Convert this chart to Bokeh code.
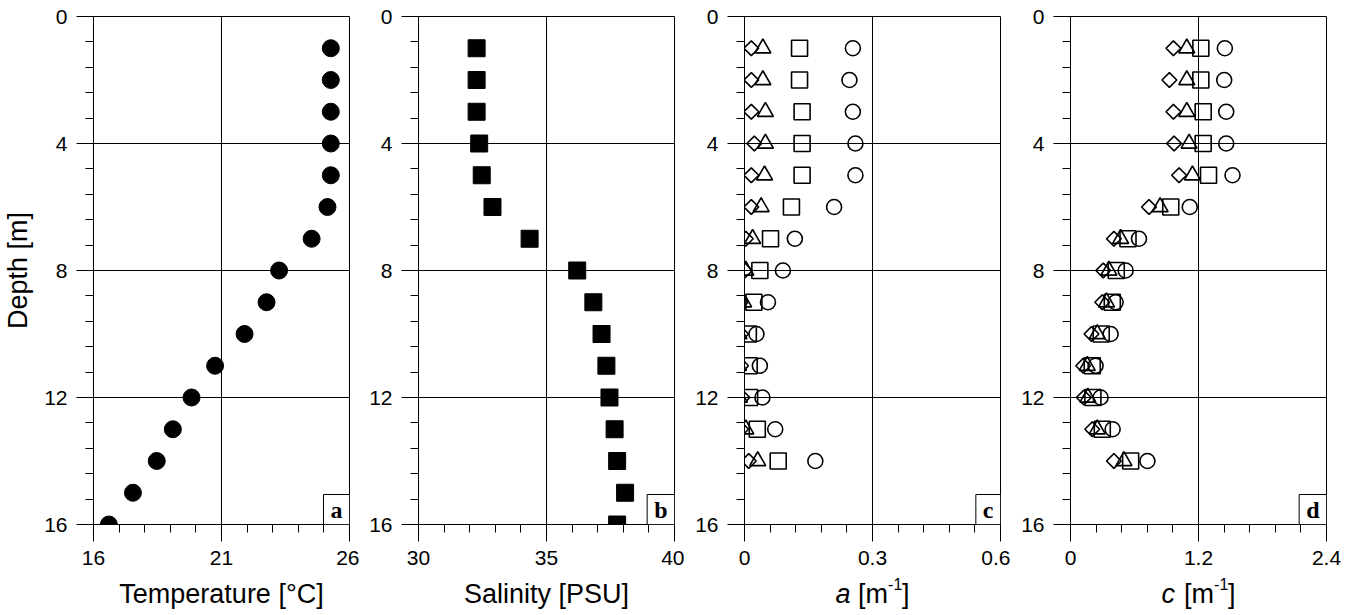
from bokeh.plotting import figure
from bokeh.layouts import row, column
from bokeh.models import Range1d, FixedTicker, Label
from bokeh.core.properties import value
from bokeh.embed import file_html
from bokeh.resources import INLINE

# ---------------- data ----------------
depth_ts = [1, 2, 3, 4, 5, 6, 7, 8, 9, 10, 11, 12, 13, 14, 15, 16]
temperature = [25.27, 25.27, 25.27, 25.27, 25.27, 25.14, 24.52, 23.25, 22.76, 21.90,
               20.75, 19.83, 19.10, 18.47, 17.54, 16.60]
salinity = [32.27, 32.27, 32.27, 32.37, 32.47, 32.89, 34.34, 36.20, 36.83, 37.15,
            37.34, 37.46, 37.66, 37.76, 38.07, 37.76]

depth_opt = [1, 2, 3, 4, 5, 6, 7, 8, 9, 10, 11, 12, 13, 14]
a_circle = [0.254, 0.246, 0.254, 0.260, 0.260, 0.210, 0.118, 0.090, 0.055, 0.028, 0.036, 0.042, 0.072, 0.166]
a_square = [0.129, 0.129, 0.135, 0.135, 0.135, 0.110, 0.061, 0.036, 0.022, 0.009, 0.011, 0.012, 0.030, 0.079]
a_triangle = [0.043, 0.043, 0.049, 0.049, 0.047, 0.039, 0.019, 0.003, -0.002, -0.013, -0.014, -0.012, 0.003, 0.031]
a_diamond = [0.016, 0.016, 0.016, 0.023, 0.016, 0.016, 0.003, 0.001, -0.009, -0.008, -0.008, -0.005, -0.008, 0.010]

c_circle = [1.447, 1.441, 1.460, 1.460, 1.519, 1.118, 0.642, 0.517, 0.423, 0.376, 0.235, 0.282, 0.395, 0.721]
c_square = [1.222, 1.222, 1.244, 1.244, 1.294, 0.940, 0.539, 0.429, 0.392, 0.288, 0.204, 0.210, 0.298, 0.564]
c_triangle = [1.090, 1.090, 1.090, 1.112, 1.143, 0.840, 0.470, 0.360, 0.338, 0.251, 0.157, 0.163, 0.251, 0.501]
c_diamond = [0.965, 0.927, 0.965, 0.971, 1.018, 0.736, 0.407, 0.307, 0.298, 0.197, 0.119, 0.125, 0.204, 0.407]

x_ranges = [(16, 26), (30, 40), (0, 0.6), (0, 2.4)]
x_major = [[16, 21, 26], [30, 35, 40], [0, 0.3, 0.6], [0, 1.2, 2.4]]
x_titles = [["Temperature [°C]"], ["Salinity [PSU]"], ["a", "[m", "-1", "]"], ["c", "[m", "-1", "]"]]
depth_ticks = [0, 4, 8, 12, 16]
panel_letters = ["a", "b", "c", "d"]
depth_range = (16, 0)

SANS = "Liberation Sans"
SERIF = "Liberation Serif"

borders_left = [90, 59, 60, 60]
borders_right = [10, 10, 10, 32]
FRAME_W = 256


def minor_list(majors, n=5):
    out = []
    for a, b in zip(majors[:-1], majors[1:]):
        step = (b - a) / n
        out += [a + step * k for k in range(1, n)]
    return out


def make_panel(i):
    p = figure(frame_width=FRAME_W, frame_height=508,
               min_border_left=borders_left[i], min_border_right=borders_right[i],
               min_border_top=16, min_border_bottom=51,
               x_range=Range1d(*x_ranges[i]), y_range=Range1d(*depth_range),
               output_backend="svg", toolbar_location=None,
               background_fill_color="white", border_fill_color="white")
    p.outline_line_color = "black"
    p.outline_line_width = 1

    for ax in (p.xaxis[0], p.yaxis[0]):
        ax.axis_line_color = "black"
        ax.axis_line_width = 1
        ax.major_tick_line_color = "black"
        ax.minor_tick_line_color = "black"
        ax.major_tick_in = 0
        ax.minor_tick_in = 0
        ax.major_tick_out = 17
        ax.minor_tick_out = 8
        ax.major_label_text_font = SANS
        ax.major_label_text_font_size = "21px"
        ax.major_label_text_color = "black"
        ax.major_label_standoff = 9
        ax.axis_label_text_font = SANS
        ax.axis_label_text_font_size = "27px"
        ax.axis_label_text_font_style = "normal"
        ax.axis_label_text_color = "black"

    p.xaxis[0].ticker = FixedTicker(ticks=x_major[i], minor_ticks=minor_list(x_major[i]))
    p.yaxis[0].ticker = FixedTicker(ticks=depth_ticks, minor_ticks=minor_list(depth_ticks))
    p.xaxis[0].major_label_overrides = {0: "0"}
    if i == 0:
        p.yaxis[0].axis_label = "Depth [m]"
        p.yaxis[0].axis_label_standoff = 8

    p.xgrid.grid_line_color = "black"
    p.ygrid.grid_line_color = "black"
    p.xgrid.ticker = p.xaxis[0].ticker
    p.ygrid.ticker = p.yaxis[0].ticker

    lab = Label(x=x_ranges[i][1], y=depth_range[0], text=panel_letters[i],
                text_align="right", text_baseline="bottom",
                text_font=SERIF, text_font_style="bold", text_font_size="24px",
                text_color="black", border_line_color="black", border_line_width=1,
                background_fill_color="white", padding=(7, 7, 2, 2))
    p.add_layout(lab)
    return p


def make_title_strip(i):
    s = figure(frame_width=FRAME_W, frame_height=40,
               min_border_left=borders_left[i], min_border_right=borders_right[i],
               min_border_top=0, min_border_bottom=0,
               x_range=Range1d(*x_ranges[i]), y_range=Range1d(0, 1),
               x_axis_location=None, y_axis_location=None,
               output_backend="svg", toolbar_location=None,
               background_fill_color="white", border_fill_color="white")
    s.outline_line_color = None
    s.xgrid.visible = False
    s.ygrid.visible = False
    center = (x_ranges[i][0] + x_ranges[i][1]) / 2
    parts = x_titles[i]
    base_y = 0.55
    if len(parts) == 1:
        s.text(x=[center], y=[base_y], text=parts, text_align="center", text_baseline="alphabetic",
               text_font=value(SANS), text_font_size="27px", text_color="black")
    else:
        # italic symbol, unit, superscript, bracket
        offs = [-37.1, -14.6, 15.6, 29.6]
        styles = ["italic", "normal", "normal", "normal"]
        sizes = ["27px", "27px", "16px", "27px"]
        yoffs = [0, 0, -10, 0]
        for txt, xo, st, sz, yo in zip(parts, offs, styles, sizes, yoffs):
            s.text(x=[center], y=[base_y], text=[txt], x_offset=xo, y_offset=yo,
                   text_align="left", text_baseline="alphabetic",
                   text_font=value(SANS), text_font_style=st, text_font_size=sz,
                   text_color="black")
    return s


panels = [make_panel(i) for i in range(4)]
pa, pb, pc, pd = panels

pa.scatter(temperature, depth_ts, marker="circle", size=17, fill_color="black", line_color="black")
pb.scatter(salinity, depth_ts, marker="square", size=17, fill_color="black", line_color="black")


def open_markers(p, circ, sq, tri, dia):
    kw = dict(fill_color=None, line_color="black", line_width=1.6)
    p.scatter(dia, depth_opt, marker="square", angle=0.785398, size=10.5, **kw)
    p.scatter(tri, depth_opt, marker="triangle", size=16, **kw)
    p.scatter(sq, depth_opt, marker="square", size=16, **kw)
    p.scatter(circ, depth_opt, marker="circle", size=15, **kw)


open_markers(pc, a_circle, a_square, a_triangle, a_diamond)
open_markers(pd, c_circle, c_square, c_triangle, c_diamond)

cols = [column(panels[i], make_title_strip(i), spacing=0) for i in range(4)]
layout = row(*cols, spacing=0)
open("out.html", "w").write(file_html(layout, INLINE))
